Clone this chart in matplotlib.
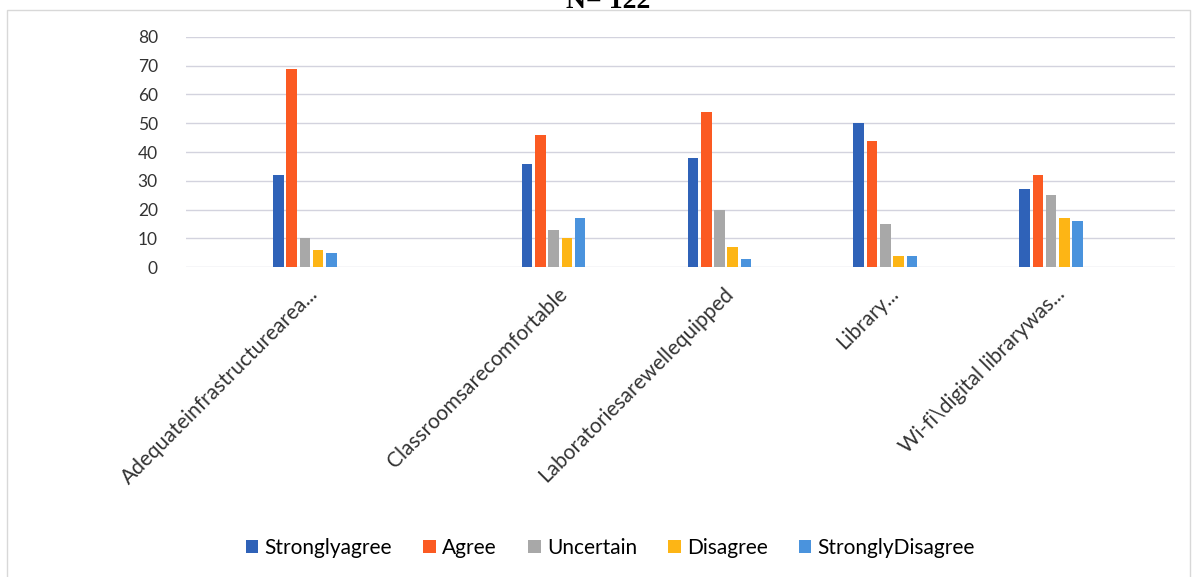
import numpy as np
import matplotlib.pyplot as plt
from matplotlib.patches import Rectangle

# data (N = 122)
categories = [
    "Adequateinfrastructurearea...",
    "Classroomsarecomfortable",
    "Laboratoriesarewellequipped",
    "Library...",
    r"Wi-fi\digital librarywas...",
]
series_names = ["Stronglyagree", "Agree", "Uncertain", "Disagree", "StronglyDisagree"]
strongly_agree = [32, 36, 38, 50, 27]
agree = [69, 46, 54, 44, 32]
uncertain = [10, 13, 20, 15, 25]
disagree = [6, 10, 7, 4, 17]
strongly_disagree = [5, 17, 3, 4, 16]

colors = ["#2f62b8", "#fb5a22", "#a8a8a8", "#fdb515", "#4a93dd"]

# group centres (first group sits further left in the reference)
x = np.array([0, 1.5, 2.5, 3.5, 4.5])

fig = plt.figure(figsize=(11.97, 5.77), dpi=100)
fig.patch.set_facecolor("white")
ax = fig.add_axes([0.155, 0.537, 0.827, 0.399])

values = [strongly_agree, agree, uncertain, disagree, strongly_disagree]
pitch = 0.08
for i, (name, vals) in enumerate(zip(series_names, values)):
    ax.bar(x + (i - 2) * pitch, vals, width=0.064, color=colors[i], label=name, zorder=3)

ax.set_ylim(0, 80)
ax.set_xlim(-0.72, 5.25)
ax.set_yticks(range(0, 81, 10))
ax.grid(axis="y", color="#d3d3de", lw=1, zorder=0)
for s in ax.spines.values():
    s.set_visible(False)
ax.tick_params(axis="y", length=0, pad=20, labelsize=12.5, labelcolor="#333333")
ax.tick_params(axis="x", length=0, pad=12)
ax.set_xticks(x + 0.02)
ax.set_xticklabels(categories, rotation=45, ha="right", rotation_mode="anchor",
                   fontsize=15, color="#333333", family="Lato")
for t in ax.get_yticklabels():
    t.set_family("Lato")

ax.legend(loc="center", bbox_to_anchor=(0.51, 0.05), bbox_transform=fig.transFigure,
          ncol=5, frameon=False, handlelength=0.6, handleheight=0.6, handletextpad=0.3,
          columnspacing=1.5, prop={"family": "Lato", "size": 15})

# frame of the chart area and the clipped title
fig.patches.append(Rectangle((0.006, -0.05), 0.988, 1.033, transform=fig.transFigure,
                             fill=False, edgecolor="#d8d8d8", lw=1))
fig.text(0.508, 1 - 8 / 577, "N= 122", ha="center", va="baseline", fontsize=20,
         fontweight="bold", family="Liberation Serif")

plt.savefig("out.png", dpi=100)
